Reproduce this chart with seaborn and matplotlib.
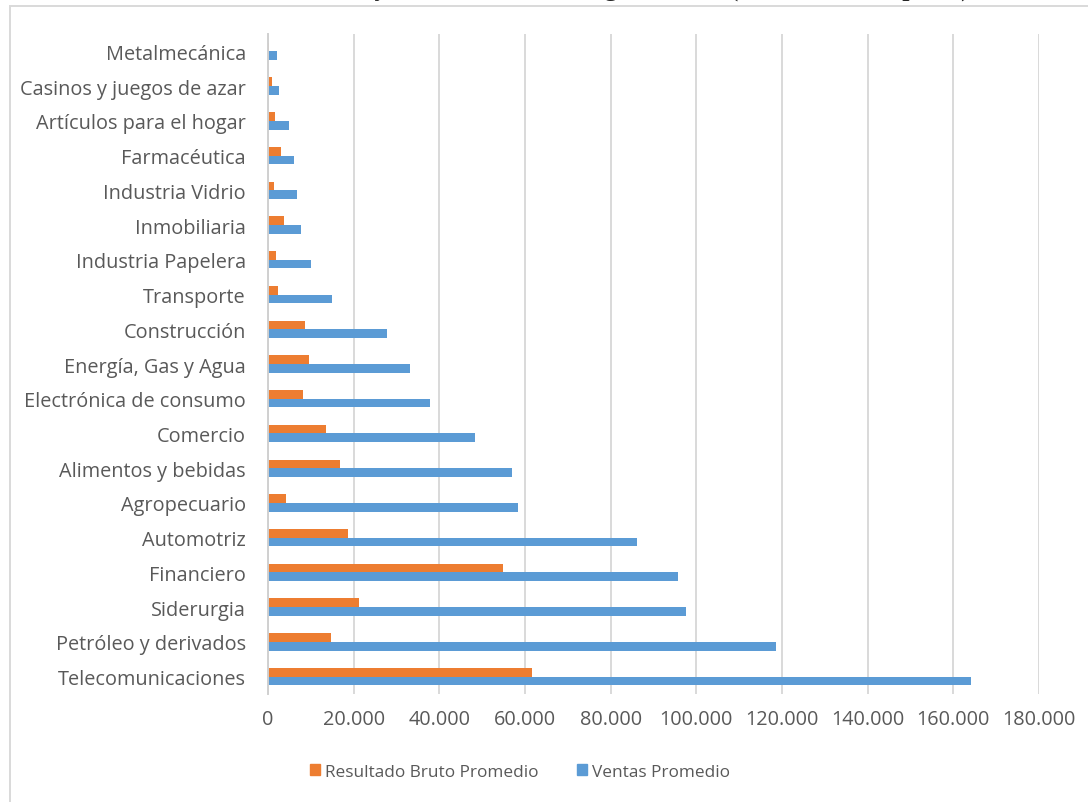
import matplotlib
matplotlib.use("Agg")
import matplotlib.pyplot as plt
import matplotlib.patches as mpatches
import matplotlib.ticker as mticker
import pandas as pd
import seaborn as sns

# --- data ---
sectores = [
    "Metalmecánica", "Casinos y juegos de azar", "Artículos para el hogar",
    "Farmacéutica", "Industria Vidrio", "Inmobiliaria", "Industria Papelera",
    "Transporte", "Construcción", "Energía, Gas y Agua", "Electrónica de consumo",
    "Comercio", "Alimentos y bebidas", "Agropecuario", "Automotriz",
    "Financiero", "Siderurgia", "Petróleo y derivados", "Telecomunicaciones",
]
resultado_bruto = [150, 930, 1640, 3040, 1320, 3740, 1790, 2340, 8640, 9500,
                   8180, 13550, 16820, 4130, 18690, 54970, 21260, 14790, 61740]
ventas = [2180, 2490, 4830, 6150, 6850, 7630, 10040, 14870, 27870, 33170,
          37770, 48430, 57070, 58330, 86040, 95780, 97650, 118670, 164150]
series = ["Resultado Bruto Promedio", "Ventas Promedio"]
colores = ["#ED7D31", "#5B9BD5"]
titulo = "Ventas y Resultado Bruto según Sector (en millones de pesos)"

df = pd.concat([
    pd.DataFrame({"sector": sectores, "valor": resultado_bruto, "serie": series[0]}),
    pd.DataFrame({"sector": sectores, "valor": ventas, "serie": series[1]}),
])

sns.set_style("white")
plt.rcParams["font.family"] = ["Open Sans", "DejaVu Sans"]
gris = "#595959"

W, H = 1088, 803
fig = plt.figure(figsize=(W / 100, H / 100), dpi=100)
ax = fig.add_axes([268 / W, (H - 695) / H, (1039 - 268) / W, (695 - 35) / H])

sns.barplot(data=df, y="sector", x="valor", hue="serie", hue_order=series,
            palette=colores, order=sectores, orient="h", width=0.5,
            saturation=1, linewidth=0, ax=ax)

ax.set_xlim(0, 180000)
ax.xaxis.set_major_locator(mticker.MultipleLocator(20000))
ax.xaxis.set_major_formatter(mticker.FuncFormatter(
    lambda v, p: f"{int(v):,}".replace(",", ".")))
ax.set_xlabel("")
ax.set_ylabel("")
ax.set_axisbelow(True)
ax.xaxis.grid(True, color="#D9D9D9", linewidth=1.4)
ax.yaxis.grid(False)
for s in ["top", "right", "bottom"]:
    ax.spines[s].set_visible(False)
ax.spines["left"].set_color("#D0D0D0")
ax.spines["left"].set_linewidth(1.4)
ax.tick_params(axis="x", length=0, pad=11, labelsize=14.3, labelcolor=gris)
ax.tick_params(axis="y", length=0, pad=16, labelsize=14.3, labelcolor=gris)

ax.legend_.remove()
handles = [mpatches.Patch(color=c, label=s) for c, s in zip(colores, series)]
fig.legend(handles=handles, loc="center", bbox_to_anchor=(520 / W, 30 / H),
           ncol=2, frameon=False, fontsize=12.4, labelcolor=gris,
           handlelength=0.6, handleheight=0.6, handletextpad=0.3,
           columnspacing=2.2)

# chart area border (cut off at right and bottom in the reference)
fig.patches.append(mpatches.Rectangle((10 / W, -0.1), 1.2, (H - 7) / H + 0.1,
                                      transform=fig.transFigure, fill=False,
                                      edgecolor="#D9D9D9", linewidth=1.4))

# title sits above the visible area; only its descenders show
fig.text(970 / W, 1 + 4.5 / H, titulo, ha="right", va="baseline",
         family="Liberation Serif", fontweight="bold", fontsize=18.7)

fig.savefig("out.png", dpi=100)
